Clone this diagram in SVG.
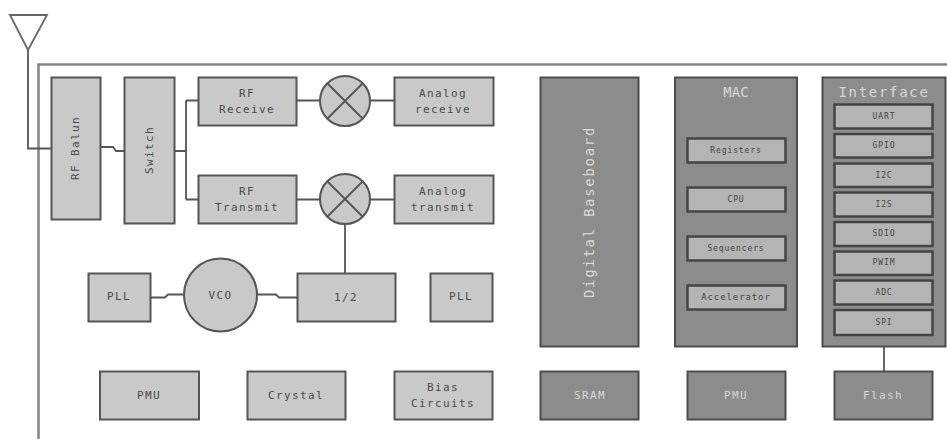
<svg xmlns="http://www.w3.org/2000/svg" width="947" height="439" viewBox="0 0 947 439">
<style>
text{font-family:"DejaVu Sans Mono","Liberation Mono",monospace;text-anchor:middle;fill:#4a4a4a;font-size:11px;letter-spacing:1.400px}
.l{fill:#c9c9c9;stroke:#555;stroke-width:2}
.d{fill:#8c8c8c;stroke:#4d4d4d;stroke-width:2}
.i{fill:#b4b4b4;stroke:#444;stroke-width:2.5}
.w{fill:#d8d8d8}
.s{font-size:8px;letter-spacing:.9px;fill:#444}
.c{fill:none;stroke:#555;stroke-width:1.8}
.f{fill:none;stroke:#858585;stroke-width:2.5}
</style>
<rect width="947" height="439" fill="#fff"/>
<g id="connectors">
<path class="f" d="M38.500 439V64.500H947"/>
<path class="c" d="M28 50V148.500H51"/>
<path class="c" d="M100 147H113L116 151H124"/>
<path class="c" d="M174 151H186M186 100.500H198M186 199.500H198M186 100.500V199.500"/>
<path class="c" d="M296 100.500H320M370 100.500H394M296 199.500H320M370 199.500H394"/>
<path class="c" d="M345 224V273" stroke-width="2"/>
<path class="c" d="M150 297.500H165L168 294.500H184M257 294.500H276L279 297.500H297"/>
<path class="c" d="M884 335V371" stroke-width="2.200"/>
</g>
<g id="antenna"><path d="M10 15H47L28 50Z" fill="#fff" stroke="#666" stroke-width="1.800"/></g>
<g id="rf-balun"><rect class="l" x="51.500" y="77.500" width="49" height="142"/><text transform="translate(79 148) rotate(-90)">RF Balun</text></g>
<g id="switch"><rect class="l" x="124.500" y="77.500" width="50" height="146"/><text transform="translate(153 150) rotate(-90)">Switch</text></g>
<g id="rf-receive"><rect class="l" x="198.500" y="77.500" width="98" height="48"/><text x="247" y="97">RF</text><text x="247" y="113">Receive</text></g>
<g id="mixer-1"><circle class="l" cx="345" cy="101" r="25"/><path class="c" d="M327.500 83.500L362.500 118.500M362.500 83.500L327.500 118.500"/></g>
<g id="analog-receive"><rect class="l" x="394.500" y="77.500" width="99" height="48"/><text x="443" y="97">Analog</text><text x="443" y="113">receive</text></g>
<g id="rf-transmit"><rect class="l" x="198.500" y="175.500" width="98" height="48"/><text x="247" y="195">RF</text><text x="247" y="211">Transmit</text></g>
<g id="mixer-2"><circle class="l" cx="345" cy="199" r="25"/><path class="c" d="M327.500 181.500L362.500 216.500M362.500 181.500L327.500 216.500"/></g>
<g id="analog-transmit"><rect class="l" x="394.500" y="175.500" width="99" height="48"/><text x="443" y="195">Analog</text><text x="443" y="211">transmit</text></g>
<g id="pll-1"><rect class="l" x="88.500" y="273.500" width="62" height="48"/><text x="119" y="300">PLL</text></g>
<g id="vco"><circle class="l" cx="220.500" cy="295" r="36.500"/><text x="220.500" y="299">VCO</text></g>
<g id="half"><rect class="l" x="297.500" y="273.500" width="98" height="48"/><text x="346" y="301">1/2</text></g>
<g id="pll-2"><rect class="l" x="430.500" y="273.500" width="62" height="48"/><text x="461" y="300">PLL</text></g>
<g id="pmu-1"><rect class="l" x="100" y="371.500" width="99" height="48"/><text x="149" y="399">PMU</text></g>
<g id="crystal"><rect class="l" x="247.500" y="371.500" width="98" height="48"/><text x="296" y="399">Crystal</text></g>
<g id="bias"><rect class="l" x="394.500" y="371.500" width="98" height="48"/><text x="443" y="391">Bias</text><text x="443" y="407">Circuits</text></g>
<g id="digital-baseboard"><rect class="d" x="540.500" y="77.500" width="98" height="269"/><text class="w" transform="translate(594 212) rotate(-90)" style="font-size:14px;letter-spacing:1.700px">Digital Baseboard</text></g>
<g id="mac"><rect class="d" x="675" y="77.500" width="122" height="269"/><text class="w" x="736" y="97" style="font-size:14px;letter-spacing:0">MAC</text></g>
<g id="registers"><rect class="i" x="687.500" y="138.500" width="98" height="24"/><text class="s" x="736" y="153">Registers</text></g>
<g id="cpu"><rect class="i" x="687.500" y="187.500" width="98" height="24"/><text class="s" x="736" y="202">CPU</text></g>
<g id="sequencers"><rect class="i" x="687.500" y="236.500" width="98" height="24"/><text class="s" x="736" y="251">Sequencers</text></g>
<g id="accelerator"><rect class="i" x="687.500" y="285.500" width="98" height="24"/><text class="s" x="736" y="300" style="font-size:9px">Accelerator</text></g>
<g id="interface"><rect class="d" x="822.500" y="77.500" width="123" height="269"/><text class="w" x="884" y="97" style="font-size:14px;letter-spacing:1.700px">Interface</text></g>
<g id="uart"><rect class="i" x="834.500" y="104.500" width="98" height="24"/><text class="s" x="884" y="119">UART</text></g>
<g id="gpio"><rect class="i" x="834.500" y="134" width="98" height="23.500"/><text class="s" x="884" y="148">GPIO</text></g>
<g id="i2c"><rect class="i" x="834.500" y="163.500" width="98" height="23.500"/><text class="s" x="884" y="178">I2C</text></g>
<g id="i2s"><rect class="i" x="834.500" y="192.500" width="98" height="24"/><text class="s" x="884" y="207">I2S</text></g>
<g id="sdio"><rect class="i" x="834.500" y="222" width="98" height="24"/><text class="s" x="884" y="236">SDIO</text></g>
<g id="pwim"><rect class="i" x="834.500" y="251.500" width="98" height="23.500"/><text class="s" x="884" y="265">PWIM</text></g>
<g id="adc"><rect class="i" x="834.500" y="280.500" width="98" height="24"/><text class="s" x="884" y="295">ADC</text></g>
<g id="spi"><rect class="i" x="834.500" y="310" width="98" height="25"/><text class="s" x="884" y="325">SPI</text></g>
<g id="sram"><rect class="d" x="540.500" y="371.500" width="98" height="48"/><text class="w" x="590" y="399">SRAM</text></g>
<g id="pmu-2"><rect class="d" x="687.500" y="371.500" width="98" height="48"/><text class="w" x="736" y="399">PMU</text></g>
<g id="flash"><rect class="d" x="834.500" y="371.500" width="98" height="48"/><text class="w" x="883" y="399">Flash</text></g>
</svg>
